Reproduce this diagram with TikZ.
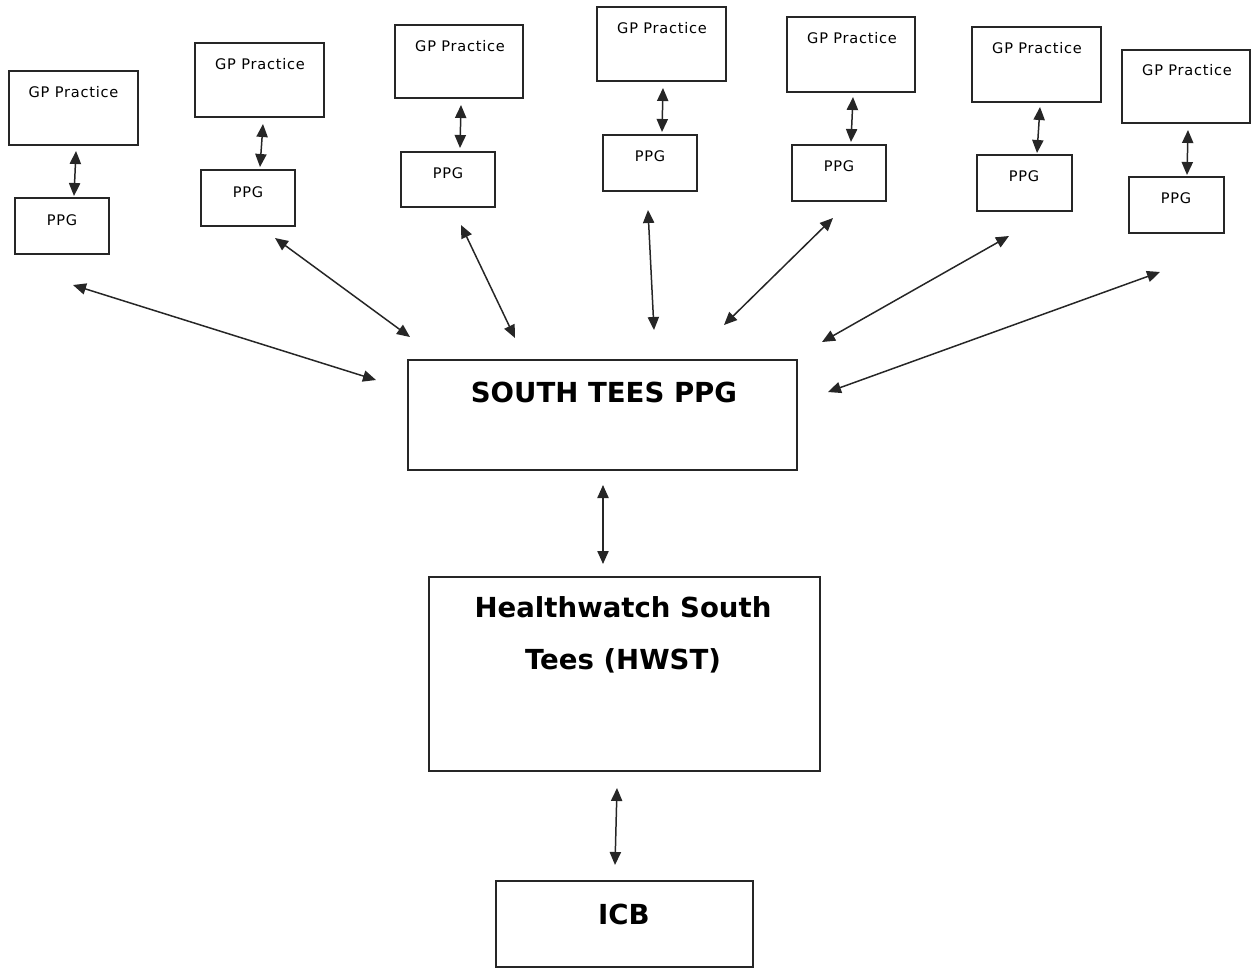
\documentclass[tikz,border=0pt]{standalone}
\usepackage{fontspec}
\setmainfont{DejaVu Sans}
\newfontfamily\smallf[LetterSpace=5]{DejaVu Sans}
\usetikzlibrary{fit,arrows.meta}
\tikzset{
  box/.style={draw=black!85, line width=0.85pt, inner sep=0pt, fill=none},
  smalltxt/.style={font=\smallf\fontsize{8.3pt}{10pt}\selectfont, anchor=base, inner sep=0pt},
  bigtxt/.style={font=\bfseries\fontsize{15.7pt}{29.5pt}\selectfont, inner sep=0pt, align=center},
  conn/.style={line width=0.85pt, draw=black!85,
    {Triangle[length=7.4pt,width=6.4pt]}-{Triangle[length=7.4pt,width=6.4pt]}}
}
\begin{document}
\begin{tikzpicture}[x=0.02cm,y=-0.02cm]
\useasboundingbox (0,0) rectangle (1252,968);
% GP practice boxes
\node[box, fit={(9,71)(138,145)}] (gp1) {};
\node[box, fit={(195,43)(324,117)}] (gp2) {};
\node[box, fit={(395,25)(523,98)}] (gp3) {};
\node[box, fit={(597,7)(726,81)}] (gp4) {};
\node[box, fit={(787,17)(915,92)}] (gp5) {};
\node[box, fit={(972,27)(1101,102)}] (gp6) {};
\node[box, fit={(1122,50)(1250,123)}] (gp7) {};
% PPG boxes
\node[box, fit={(15,198)(109,254)}] (ppg1) {};
\node[box, fit={(201,170)(295,226)}] (ppg2) {};
\node[box, fit={(401,152)(495,207)}] (ppg3) {};
\node[box, fit={(603,135)(697,191)}] (ppg4) {};
\node[box, fit={(792,145)(886,201)}] (ppg5) {};
\node[box, fit={(977,155)(1072,211)}] (ppg6) {};
\node[box, fit={(1129,177)(1224,233)}] (ppg7) {};
% labels
\node[smalltxt] (gp1t) at (73.5,97) {GP Practice};
\node[smalltxt] (gp2t) at (260,69) {GP Practice};
\node[smalltxt] (gp3t) at (460,51) {GP Practice};
\node[smalltxt] (gp4t) at (662,33) {GP Practice};
\node[smalltxt] (gp5t) at (852,43) {GP Practice};
\node[smalltxt] (gp6t) at (1037,53) {GP Practice};
\node[smalltxt] (gp7t) at (1187,75) {GP Practice};
\node[smalltxt] (ppg1t) at (62,225) {PPG};
\node[smalltxt] (ppg2t) at (248,197) {PPG};
\node[smalltxt] (ppg3t) at (448,178) {PPG};
\node[smalltxt] (ppg4t) at (650,161) {PPG};
\node[smalltxt] (ppg5t) at (839,171) {PPG};
\node[smalltxt] (ppg6t) at (1024,181) {PPG};
\node[smalltxt] (ppg7t) at (1176,203) {PPG};
% main boxes
\node[box, fit={(408,360)(797,470)}] (st) {};
\node[box, fit={(429,577)(820,771)}] (hw) {};
\node[box, fit={(496,881)(753,967)}] (icb) {};
\node[bigtxt, anchor=base] (stt) at (604,402) {SOUTH TEES PPG};
\node[bigtxt, anchor=center] (hwt) at (623,635) {Healthwatch South\\Tees (HWST)};
\node[bigtxt, anchor=base] (icbt) at (624,924) {ICB};
% arrow end points
\coordinate (s1a) at (76,151);   \coordinate (s1b) at (74,196);
\coordinate (s2a) at (263,124);  \coordinate (s2b) at (260,167);
\coordinate (s3a) at (461,105);  \coordinate (s3b) at (460,148);
\coordinate (s4a) at (663,88);   \coordinate (s4b) at (662,132);
\coordinate (s5a) at (853,97);   \coordinate (s5b) at (851,142);
\coordinate (s6a) at (1040,107); \coordinate (s6b) at (1037,153);
\coordinate (s7a) at (1188,130); \coordinate (s7b) at (1187,175);
\coordinate (l1a) at (73,285);   \coordinate (l1b) at (376,380);
\coordinate (l2a) at (275,238);  \coordinate (l2b) at (410,337);
\coordinate (l3a) at (461,225);  \coordinate (l3b) at (515,338);
\coordinate (l4a) at (648,210);  \coordinate (l4b) at (654,330);
\coordinate (l5a) at (833,218);  \coordinate (l5b) at (724,325);
\coordinate (l6a) at (1009,236); \coordinate (l6b) at (822,342);
\coordinate (l7a) at (1160,272); \coordinate (l7b) at (828,392);
\coordinate (c1a) at (603,485);  \coordinate (c1b) at (603,564);
\coordinate (c2a) at (617,788);  \coordinate (c2b) at (615,865);
% connectors
\foreach \i in {1,...,7} {
  \draw[conn] (s\i a) -- (s\i b);
  \draw[conn] (l\i a) -- (l\i b);
}
\draw[conn] (c1a) -- (c1b);
\draw[conn] (c2a) -- (c2b);
\end{tikzpicture}
\end{document}
